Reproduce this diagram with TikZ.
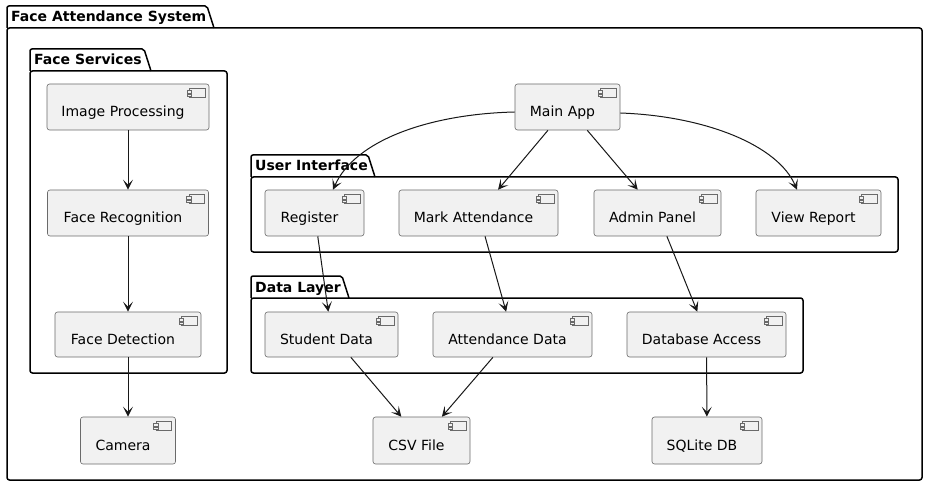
\documentclass[tikz,border=0pt]{standalone}
\usepackage{fontspec}
\setmainfont{DejaVu Sans}
\usetikzlibrary{arrows.meta}
\definecolor{compfill}{HTML}{F1F1F1}
\definecolor{ink}{HTML}{181818}
\definecolor{compline}{HTML}{6A6A6A}
\tikzset{
  comp/.style={draw=compline, line width=0.6pt, fill=compfill, rounded corners=2.5pt,
    minimum height=46pt, inner sep=0pt, font=\fontsize{14pt}{16pt}\selectfont,
    text height=22pt, text depth=3pt},
  dep/.style={draw=ink, line width=1pt, -{Stealth[length=10pt,width=10pt,inset=5pt]}},
  pkgline/.style={draw=black, line width=1.5pt},
  pkgtitle/.style={font=\bfseries\fontsize{14pt}{16pt}\selectfont, anchor=base west, inner sep=0pt},
  iconbox/.style={draw=compline, line width=0.5pt, fill=compfill},
}
\newcommand\cl[1]{#1\kern10pt}
\newcommand\compicon[1]{%
  \draw[iconbox] ([xshift=-20pt,yshift=-4.5pt]#1.north east) rectangle ([xshift=-4.5pt,yshift=-14pt]#1.north east);
  \draw[iconbox] ([xshift=-22.5pt,yshift=-7pt]#1.north east) rectangle ([xshift=-18pt,yshift=-9.5pt]#1.north east);
  \draw[iconbox] ([xshift=-22.5pt,yshift=-10.5pt]#1.north east) rectangle ([xshift=-18pt,yshift=-13pt]#1.north east);
}
\newcommand\umlpkg[8]{%
  \draw[pkgline, rounded corners=2.5pt] (#2,#5) rectangle (#6,#7);
  \draw[pkgline, rounded corners=2pt] (#2,#5) -- (#2,#3) -- (#4,#3) -- (#4+7,#5);
  \node[pkgtitle] (#1) at (#2+4,#5-6) {#8};
}
\begin{document}
\begin{tikzpicture}[x=1pt,y=-1pt]
\fill[white] (0,0) rectangle (928,486);
\useasboundingbox (0,0) rectangle (928,486);

% packages
\umlpkg{pkgsys}{7}{6}{207}{28}{922}{480}{Face Attendance System}
\umlpkg{pkgface}{30}{49}{144}{71}{227}{373}{Face Services}
\umlpkg{pkgui}{251}{155}{368}{177}{898}{252}{User Interface}
\umlpkg{pkgdata}{251}{276}{342}{298}{803}{373}{Data Layer}

% components
\node[comp, minimum width=162pt] (imgp) at (128,107) {\cl{Image Processing}};
\node[comp, minimum width=161pt] (facer) at (128,213) {\cl{Face Recognition}};
\node[comp, minimum width=146pt, minimum height=45pt] (faced) at (128,334.5) {\cl{Face Detection}};
\node[comp, minimum width=95pt, minimum height=47pt] (camera) at (128,440.5) {\cl{Camera}};

\node[comp, minimum width=105pt] (mainapp) at (567.5,107) {\cl{Main App}};
\node[comp, minimum width=99pt] (register) at (314.5,213) {\cl{Register}};
\node[comp, minimum width=159pt] (markatt) at (478.5,213) {\cl{Mark Attendance}};
\node[comp, minimum width=127pt] (admin) at (657.5,213) {\cl{Admin Panel}};
\node[comp, minimum width=125pt] (viewrep) at (818.5,213) {\cl{View Report}};

\node[comp, minimum width=133pt, minimum height=45pt] (student) at (331.5,334.5) {\cl{Student Data}};
\node[comp, minimum width=159pt, minimum height=45pt] (attdata) at (512.5,334.5) {\cl{Attendance Data}};
\node[comp, minimum width=159pt, minimum height=45pt] (dbacc) at (706.5,334.5) {\cl{Database Access}};

\node[comp, minimum width=97pt, minimum height=47pt] (csv) at (421.5,440.5) {\cl{CSV File}};
\node[comp, minimum width=110pt, minimum height=47pt] (sqlite) at (707,440.5) {\cl{SQLite DB}};

\foreach \n in {imgp,facer,faced,camera,mainapp,register,markatt,admin,viewrep,student,attdata,dbacc,csv,sqlite}{\compicon{\n}}

% dependencies
\draw[dep] (imgp) -- (facer);
\draw[dep] (facer) -- (faced);
\draw[dep] (faced) -- (camera);
\draw[dep] ([yshift=-5pt]mainapp.west) .. controls (430,114) and (355,140) .. ([xshift=18.5pt]register.north);
\draw[dep] (mainapp) -- (markatt);
\draw[dep] (mainapp) -- (admin);
\draw[dep] ([yshift=-6pt]mainapp.east) .. controls (705,116) and (778,145) .. ([xshift=-21.5pt]viewrep.north);
\draw[dep] (register) -- (student);
\draw[dep] (markatt) -- (attdata);
\draw[dep] (admin) -- (dbacc);
\draw[dep] (student) -- (csv);
\draw[dep] (attdata) -- (csv);
\draw[dep] (dbacc) -- (sqlite);
\end{tikzpicture}
\end{document}
